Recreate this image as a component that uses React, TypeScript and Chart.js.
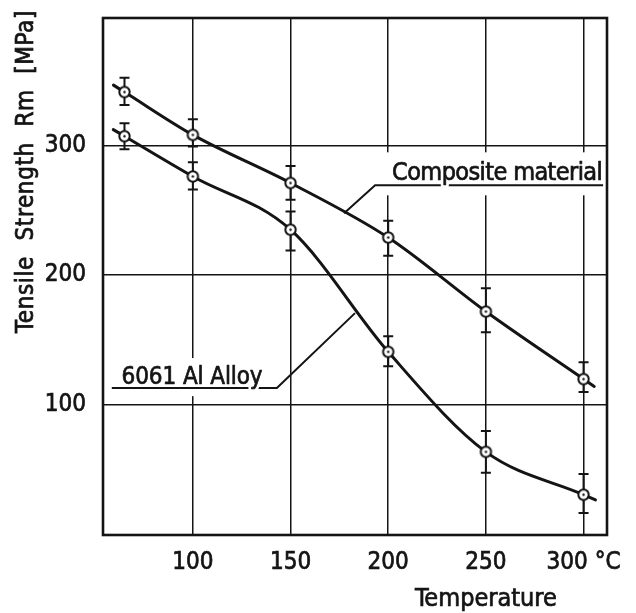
import React, { useEffect, useRef } from "react";
import { Chart, registerables } from "chart.js";
Chart.register(...registerables);

// ---- data ----
const temperatures = [65, 100, 150, 200, 250, 300];
const compositeMean = [341, 308, 271, 229, 172, 120];
const compositeLow = [331, 299, 258, 215, 156, 110];
const compositeHigh = [352, 320, 284, 242, 190, 133];
const alloyMean = [307, 276, 235, 141, 64, 31];
const alloyLow = [297, 266, 219, 130, 48, 17];
const alloyHigh = [317, 287, 249, 153, 80, 47];
const xTicks = [100, 150, 200, 250, 300];
const yTicks = [100, 200, 300];
const xTickLabels = ["100", "150", "200", "250", "300 °C"];
const yTickLabels = ["100", "200", "300"];
const seriesNames = ["Composite material", "6061 Al Alloy"];
const xTitle = "Temperature";
const yTitle = "Tensile Strength Rm [MPa]";

const FONT = '"DejaVu Sans Condensed", "DejaVu Sans", sans-serif';
const INK = "#141414";

function makePointCanvas() {
  const c = document.createElement("canvas");
  c.width = 15;
  c.height = 15;
  const g = c.getContext("2d")!;
  g.beginPath();
  g.arc(7.5, 7.5, 5.2, 0, Math.PI * 2);
  g.fillStyle = "#fff";
  g.fill();
  g.lineWidth = 2;
  g.strokeStyle = INK;
  g.stroke();
  g.beginPath();
  g.arc(7.5, 7.5, 1.2, 0, Math.PI * 2);
  g.fillStyle = INK;
  g.fill();
  return c;
}

const labelDefs = [
  {
    text: seriesNames[0],
    x: 202,
    y: 273,
    width: 210,
    size: 25,
    leader: [[177.4, 247.7], [193.3, 269.2], [310, 269.2]],
    clear: [193.3, 294.6, 311.8, 261.5],
  },
  {
    text: seriesNames[1],
    x: 63.5,
    y: 116.2,
    width: 141,
    size: 24,
    leader: [[183, 170.8], [143, 113.1], [58.5, 113.1]],
    clear: [55.4, 136.2, 147.2, 106.9],
  },
];

function fitSpacing(ctx: CanvasRenderingContext2D, text: string, target: number) {
  (ctx as any).letterSpacing = "0px";
  (ctx as any).wordSpacing = "0px";
  const w = ctx.measureText(text).width;
  const ls = (target - w) / text.length;
  (ctx as any).letterSpacing = ls + "px";
}

function drawBoldText(ctx: CanvasRenderingContext2D, text: string, x: number, y: number) {
  ctx.lineWidth = 0.7;
  ctx.strokeStyle = INK;
  ctx.fillStyle = INK;
  ctx.fillText(text, x, y);
  ctx.strokeText(text, x, y);
}

const decorPlugin = {
  id: "decor",
  beforeDatasetsDraw(chart: any) {
    const { ctx } = chart;
    const xs = chart.scales.x;
    const ys = chart.scales.y;
    ctx.save();
    ctx.fillStyle = "#fff";
    labelDefs.forEach((d) => {
      const x1 = xs.getPixelForValue(d.clear[0]);
      const y1 = ys.getPixelForValue(d.clear[1]);
      const x2 = xs.getPixelForValue(d.clear[2]);
      const y2 = ys.getPixelForValue(d.clear[3]);
      ctx.fillRect(x1, y1, x2 - x1, y2 - y1);
    });
    ctx.strokeStyle = INK;
    ctx.lineWidth = 2;
    const sets = [
      [compositeLow, compositeHigh],
      [alloyLow, alloyHigh],
    ];
    sets.forEach(([lo, hi]) => {
      temperatures.forEach((t, i) => {
        const px = xs.getPixelForValue(t);
        const a = ys.getPixelForValue(lo[i]);
        const b = ys.getPixelForValue(hi[i]);
        ctx.beginPath();
        ctx.moveTo(px, a);
        ctx.lineTo(px, b);
        ctx.moveTo(px - 5, a);
        ctx.lineTo(px + 5, a);
        ctx.moveTo(px - 5, b);
        ctx.lineTo(px + 5, b);
        ctx.stroke();
      });
    });
    ctx.restore();
  },
  afterDatasetsDraw(chart: any) {
    const { ctx } = chart;
    const xs = chart.scales.x;
    const ys = chart.scales.y;
    ctx.save();
    ctx.strokeStyle = INK;
    ctx.lineWidth = 3;
    ctx.lineCap = "round";
    chart.data.datasets.forEach((_: any, di: number) => {
      const pts = chart.getDatasetMeta(di).data;
      const ends = [
        [pts[0], pts[1]],
        [pts[pts.length - 1], pts[pts.length - 2]],
      ];
      ends.forEach(([p, q]: any) => {
        let dx = p.x - q.x;
        let dy = p.y - q.y;
        const l = Math.hypot(dx, dy) || 1;
        dx /= l;
        dy /= l;
        ctx.beginPath();
        ctx.moveTo(p.x + dx * 6, p.y + dy * 6);
        ctx.lineTo(p.x + dx * 13, p.y + dy * 13);
        ctx.stroke();
      });
    });
    ctx.lineCap = "butt";
    labelDefs.forEach((d) => {
      ctx.strokeStyle = INK;
      ctx.lineWidth = 2;
      ctx.beginPath();
      d.leader.forEach(([lx, ly], i) => {
        const px = xs.getPixelForValue(lx);
        const py = ys.getPixelForValue(ly);
        if (i === 0) ctx.moveTo(px, py);
        else ctx.lineTo(px, py);
      });
      ctx.stroke();
      ctx.font = `${d.size}px ${FONT}`;
      fitSpacing(ctx, d.text, d.width);
      ctx.textAlign = "left";
      ctx.textBaseline = "alphabetic";
      const tx = xs.getPixelForValue(d.x);
      const ty = ys.getPixelForValue(d.y);
      ctx.strokeStyle = "#fff";
      ctx.lineWidth = 6;
      ctx.lineJoin = "round";
      ctx.strokeText(d.text, tx, ty);
      drawBoldText(ctx, d.text, tx, ty);
      (ctx as any).letterSpacing = "0px";
    });
    ctx.restore();
  },
  afterDraw(chart: any) {
    const { ctx, chartArea } = chart;
    const xs = chart.scales.x;
    const ys = chart.scales.y;
    ctx.save();
    ctx.strokeStyle = INK;
    ctx.lineWidth = 2.6;
    ctx.strokeRect(chartArea.left, chartArea.top, chartArea.right - chartArea.left, chartArea.bottom - chartArea.top);
    // x title
    ctx.font = `25px ${FONT}`;
    fitSpacing(ctx, xTitle, 142);
    ctx.textAlign = "left";
    ctx.textBaseline = "alphabetic";
    drawBoldText(ctx, xTitle, xs.getPixelForValue(250) - 71, 606);
    // y title: fixed total length with wider word gaps
    ctx.font = `24px ${FONT}`;
    (ctx as any).letterSpacing = "0px";
    (ctx as any).wordSpacing = "0px";
    const w0 = ctx.measureText(yTitle).width;
    const gaps = yTitle.split(" ").length - 1;
    const extraWord = 8;
    const ls = (323 - w0 - gaps * extraWord) / yTitle.length;
    (ctx as any).letterSpacing = ls + "px";
    (ctx as any).wordSpacing = extraWord + "px";
    ctx.translate(33, ys.getPixelForValue(0) - 202);
    ctx.rotate(-Math.PI / 2);
    ctx.textAlign = "left";
    drawBoldText(ctx, yTitle, 0, 0);
    (ctx as any).letterSpacing = "0px";
    (ctx as any).wordSpacing = "0px";
    ctx.restore();
  },
};

export default function App() {
  const ref = useRef<HTMLCanvasElement>(null);
  useEffect(() => {
    const pointImg = makePointCanvas();
    const lineStyle = {
      borderColor: INK,
      borderWidth: 3,
      cubicInterpolationMode: "monotone",
      pointStyle: pointImg as any,
      pointRadius: 6,
    };
    const tickFont = { family: FONT, size: 24 };
    const chart = new Chart(ref.current!, {
      type: "line",
      data: {
        datasets: [
          {
            label: seriesNames[0],
            data: temperatures.map((t, i) => ({ x: t, y: compositeMean[i] })),
            ...lineStyle,
          },
          {
            label: seriesNames[1],
            data: temperatures.map((t, i) => ({ x: t, y: alloyMean[i] })),
            ...lineStyle,
          },
        ],
      },
      options: {
        animation: false,
        responsive: false,
        devicePixelRatio: 1,
        layout: { padding: { top: 18, right: 29, left: 0, bottom: 0 } },
        plugins: { legend: { display: false }, tooltip: { enabled: false } },
        scales: {
          x: {
            type: "linear",
            min: 54,
            max: 312,
            afterBuildTicks: (s: any) => {
              s.ticks = xTicks.map((v) => ({ value: v }));
            },
            afterFit: (s: any) => {
              s.height = 78;
              s.paddingLeft = 0;
              s.paddingRight = 0;
            },
            grid: { color: INK, lineWidth: 1.5, drawTicks: false },
            border: { display: false },
            ticks: {
              autoSkip: false,
              maxRotation: 0,
              padding: 13,
              color: INK,
              textStrokeColor: INK,
              textStrokeWidth: 0.7,
              font: tickFont,
              callback: (v: any) => xTickLabels[xTicks.indexOf(v)] ?? "",
            },
          },
          y: {
            type: "linear",
            min: 0,
            max: 398,
            afterBuildTicks: (s: any) => {
              s.ticks = yTicks.map((v) => ({ value: v }));
            },
            afterFit: (s: any) => {
              s.width = 103;
              s.paddingTop = 0;
              s.paddingBottom = 0;
            },
            grid: { color: INK, lineWidth: 1.5, drawTicks: false },
            border: { display: false },
            ticks: {
              autoSkip: false,
              padding: 17,
              color: INK,
              textStrokeColor: INK,
              textStrokeWidth: 0.7,
              font: tickFont,
              callback: (v: any) => yTickLabels[yTicks.indexOf(v)] ?? "",
            },
          },
        },
      },
      plugins: [decorPlugin],
    } as any);
    return () => chart.destroy();
  }, []);
  return (
    <div style={{ position: "fixed", left: 0, top: 0, width: 636, height: 613, background: "#fff" }}>
      <canvas ref={ref} width={636} height={613} />
    </div>
  );
}
